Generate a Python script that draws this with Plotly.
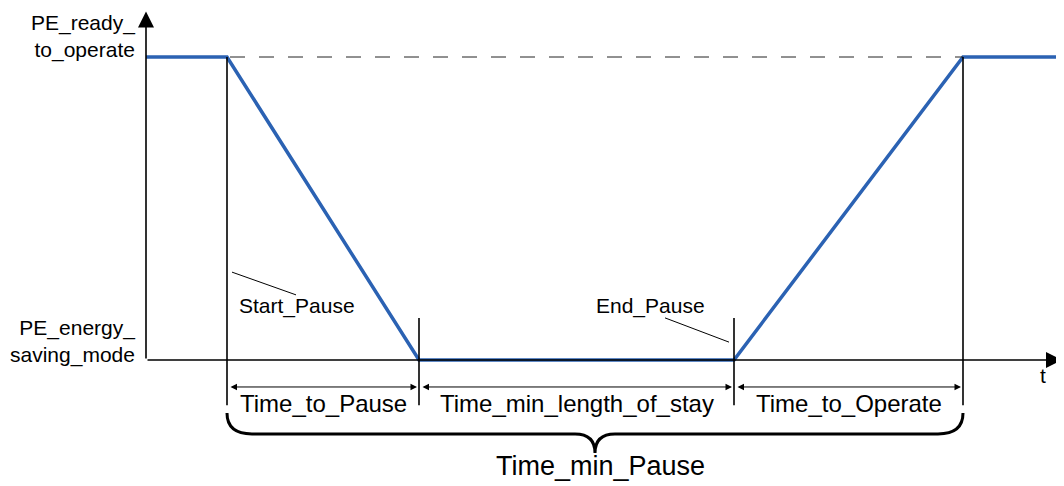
import plotly.graph_objects as go

# ---- data ----
signal_t = [0.0, 0.81, 2.73, 5.88, 8.17, 9.18]
signal_level = [1, 1, 0, 0, 1, 1]
t_start, t_pause, t_end, t_operate = 0.81, 2.73, 5.88, 8.17
level_high, level_low = 1.0, 0.0
y_labels = ["PE_ready_<br>to_operate", "PE_energy_<br>saving_mode"]
y_label_levels = [level_high, level_low]
phase_labels = ["Time_to_Pause", "Time_min_length_of_stay", "Time_to_Operate"]
phase_bounds = [t_start, t_pause, t_end, t_operate]
total_label = "Time_min_Pause"
event_labels = ["Start_Pause", "End_Pause"]
axis_label = "t"

FONT = "Arial, Liberation Sans, sans-serif"
BLUE = "#2b62b3"
BLACK = "#000000"

# axis extents (in data units)
t_axis_end = 9.16
v_axis_top = 1.15
v_tick_bottom = -0.149
v_dim = -0.089
v_short_top = 0.139

fig = go.Figure()

shapes = []
annotations = []

# dashed reference line at the high level
shapes.append(dict(type="line", xref="x", yref="y", x0=t_start + 0.03, x1=t_operate,
                   y0=level_high, y1=level_high,
                   line=dict(color="#222222", width=1, dash="15px,14px")))

# vertical markers
for t, top in [(t_start, level_high), (t_pause, v_short_top), (t_end, v_short_top), (t_operate, level_high)]:
    shapes.append(dict(type="line", xref="x", yref="y", x0=t, x1=t, y0=top, y1=v_tick_bottom,
                       line=dict(color=BLACK, width=1.6)))

# leader lines
shapes.append(dict(type="line", xref="x", yref="y", x0=t_start + 0.05, y0=0.290, x1=t_start + 0.69, y1=0.215,
                   line=dict(color=BLACK, width=1)))
shapes.append(dict(type="line", xref="x", yref="y", x0=t_end - 0.69, y0=0.139, x1=t_end - 0.05, y1=0.059,
                   line=dict(color=BLACK, width=1)))

# brace
b_top, b_mid, b_tip = -0.175, -0.244, -0.307
mid = (t_start + t_operate) / 2
r_end, r_mid = 0.25, 0.2
path = (f"M {t_start},{b_top} Q {t_start},{b_mid} {t_start + r_end},{b_mid} "
        f"L {mid - r_mid},{b_mid} Q {mid},{b_mid} {mid},{b_tip} "
        f"Q {mid},{b_mid} {mid + r_mid},{b_mid} "
        f"L {t_operate - r_end},{b_mid} Q {t_operate},{b_mid} {t_operate},{b_top}")
shapes.append(dict(type="path", xref="x", yref="y", path=path, line=dict(color=BLACK, width=3)))

# axes arrows
annotations.append(dict(x=0, y=v_axis_top, ax=0, ay=level_low, xref="x", yref="y", axref="x", ayref="y",
                        text="", showarrow=True, arrowhead=2, arrowsize=2.0, arrowwidth=1.6,
                        arrowcolor=BLACK, standoff=0))
annotations.append(dict(x=t_axis_end, y=level_low, ax=0, ay=level_low, xref="x", yref="y", axref="x", ayref="y",
                        text="", showarrow=True, arrowhead=2, arrowsize=2.0, arrowwidth=1.6,
                        arrowcolor=BLACK, standoff=0))

# dimension arrows and labels
for i, lab in enumerate(phase_labels):
    a, b = phase_bounds[i], phase_bounds[i + 1]
    annotations.append(dict(x=b - 0.02, y=v_dim, ax=a + 0.02, ay=v_dim, xref="x", yref="y", axref="x", ayref="y",
                            text="", showarrow=True, arrowhead=2, arrowside="end+start", arrowsize=1.3,
                            arrowwidth=1, arrowcolor=BLACK, standoff=0, startstandoff=0))
    annotations.append(dict(x=(a + b) / 2, y=-0.145, xref="x", yref="y", text=lab, showarrow=False,
                            font=dict(family=FONT, size=24, color=BLACK)))

annotations.append(dict(x=mid + 0.05, y=-0.350, xref="x", yref="y", text=total_label, showarrow=False,
                        font=dict(family=FONT, size=27, color=BLACK)))

# y-level labels
for lab, lvl, yv in zip(y_labels, y_label_levels, [1.069, 0.0627]):
    annotations.append(dict(x=-0.09, y=yv, xref="x", yref="y", text=lab, showarrow=False,
                            xanchor="right", align="right",
                            font=dict(family=FONT, size=21, color=BLACK)))

# event labels
annotations.append(dict(x=1.51, y=0.178, xref="x", yref="y", text=event_labels[0], showarrow=False,
                        font=dict(family=FONT, size=21, color=BLACK)))
annotations.append(dict(x=5.04, y=0.178, xref="x", yref="y", text=event_labels[1], showarrow=False,
                        font=dict(family=FONT, size=21, color=BLACK)))

annotations.append(dict(x=8.97, y=-0.05, xref="x", yref="y", text=axis_label, showarrow=False,
                        font=dict(family=FONT, size=21, color=BLACK)))

# signal
fig.add_trace(go.Scatter(x=signal_t, y=signal_level, mode="lines",
                         line=dict(color=BLUE, width=3.5), hoverinfo="skip"))

# the page adds an 8px body margin, so the figure is 8px smaller and the ranges start 8px in
fig.update_layout(
    width=1056, height=478, autosize=False,
    margin=dict(l=0, r=0, t=0, b=0),
    paper_bgcolor="white", plot_bgcolor="white",
    showlegend=False,
    xaxis=dict(range=[-1.38, 9.18], visible=False, fixedrange=True),
    yaxis=dict(range=[-0.4158, 1.1617], visible=False, fixedrange=True),
    shapes=shapes, annotations=annotations,
)

fig.write_html("out.html")
